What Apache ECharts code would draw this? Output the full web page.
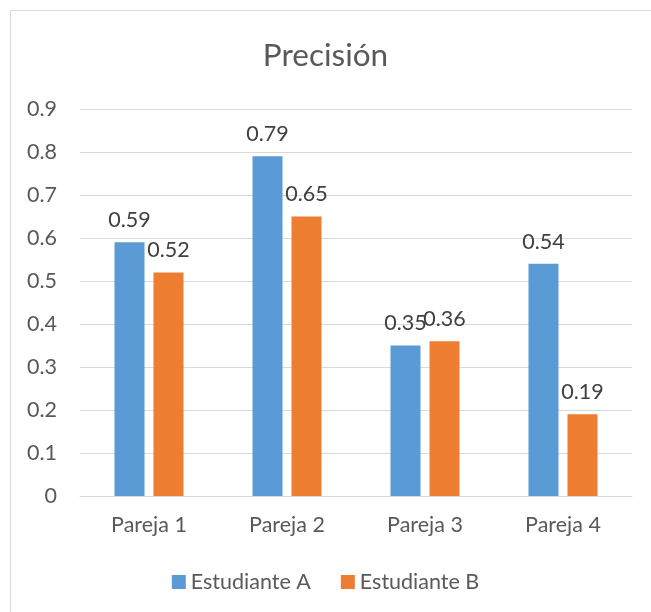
<!DOCTYPE html>
<html><head><meta charset="utf-8">
<script src="https://cdn.jsdelivr.net/npm/echarts@6/dist/echarts.min.js"></script>
<style>html,body{margin:0;padding:0;background:#fff}#c{width:651px;height:612px}
#frame{position:absolute;left:10px;top:10px;width:660px;height:620px;border:1px solid #d9d9d9;pointer-events:none}</style>
</head><body><div id="c"></div><div id="frame"></div>
<script>
const categories = ['Pareja 1', 'Pareja 2', 'Pareja 3', 'Pareja 4'];
const seriesA = [0.59, 0.79, 0.35, 0.54];
const seriesB = [0.52, 0.65, 0.36, 0.19];
const yTicks = [0, 0.1, 0.2, 0.3, 0.4, 0.5, 0.6, 0.7, 0.8, 0.9];
const FONT = 'Lato';
const chart = echarts.init(document.getElementById('c'));
const lbl = {show: true, position: 'top', distance: 11, color: '#404040', fontSize: 21.5, fontFamily: FONT};
chart.setOption({
  animation: false,
  title: {text: 'Precisión', left: 'center', top: 35, textStyle: {color: '#595959', fontSize: 31.5, fontWeight: 'normal', fontFamily: FONT}},
  grid: {left: 80, right: 19, top: 109, bottom: 116},
  legend: {top: 566, left: 'center', itemWidth: 14, itemHeight: 14, itemGap: 30, icon: 'rect',
    textStyle: {color: '#595959', fontSize: 21.5, fontFamily: FONT},
    data: ['Estudiante A', 'Estudiante B']},
  xAxis: {type: 'category', data: categories,
    axisLine: {lineStyle: {color: '#d9d9d9', width: 1}}, axisTick: {show: false},
    axisLabel: {color: '#595959', fontSize: 21.5, fontFamily: FONT, margin: 18}},
  yAxis: {type: 'value', min: yTicks[0], max: yTicks[yTicks.length - 1], interval: 0.1,
    axisLine: {show: false}, axisTick: {show: false},
    axisLabel: {color: '#595959', fontSize: 21.5, fontFamily: FONT, margin: 23,
      formatter: v => String(Math.round(v * 10) / 10)},
    splitLine: {lineStyle: {color: '#d9d9d9', width: 1}}},
  series: [
    {name: 'Estudiante A', type: 'bar', data: seriesA, barWidth: 30, barGap: '30%',
      itemStyle: {color: '#5B9BD5'}, label: lbl},
    {name: 'Estudiante B', type: 'bar', data: seriesB, barWidth: 30,
      itemStyle: {color: '#ED7D31'}, label: lbl}
  ]
});
</script></body></html>
